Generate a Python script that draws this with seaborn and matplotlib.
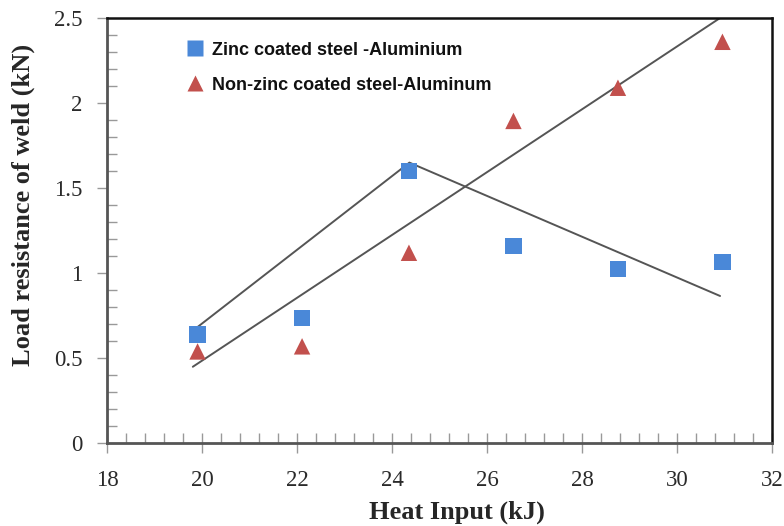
import matplotlib
matplotlib.use("Agg")
import matplotlib.pyplot as plt
import seaborn as sns
import pandas as pd
from matplotlib.ticker import MultipleLocator

# Data
heat_input = [19.9, 22.1, 24.35, 26.55, 28.75, 30.95]
zinc_load = [0.64, 0.735, 1.60, 1.16, 1.025, 1.065]
nonzinc_load = [0.54, 0.57, 1.12, 1.895, 2.09, 2.36]
zinc_trend_x = [19.8, 24.36, 30.9]
zinc_trend_y = [0.662, 1.65, 0.866]
nonzinc_trend_x = [19.8, 30.9]
nonzinc_trend_y = [0.45, 2.50]
series_names = ["Zinc coated steel -Aluminium", "Non-zinc coated steel-Aluminum"]
x_ticks = [18, 20, 22, 24, 26, 28, 30, 32]
y_ticks = [0, 0.5, 1, 1.5, 2, 2.5]
y_tick_labels = ["0", "0.5", "1", "1.5", "2", "2.5"]

sns.set_style("white")

df = pd.DataFrame({
    "x": heat_input * 2,
    "y": zinc_load + nonzinc_load,
    "series": [series_names[0]] * len(heat_input) + [series_names[1]] * len(heat_input),
})

fig = plt.figure(figsize=(7.84, 5.26), dpi=100)
ax = fig.add_axes([0.1369, 0.1572, 0.8482, 0.8086])

# trend lines
sns.lineplot(x=zinc_trend_x, y=zinc_trend_y, ax=ax, color="#555555", linewidth=1.4,
             legend=False, sort=False, estimator=None, zorder=2)
sns.lineplot(x=nonzinc_trend_x, y=nonzinc_trend_y, ax=ax, color="#555555", linewidth=1.4,
             legend=False, sort=False, estimator=None, zorder=2)

sns.scatterplot(data=df, x="x", y="y", hue="series", style="series",
                markers={series_names[0]: "s", series_names[1]: "^"},
                palette={series_names[0]: "#4a88d8", series_names[1]: "#c2504d"},
                s=140, edgecolor="none", ax=ax, zorder=3)

ax.set_xlim(18, 32)
ax.set_ylim(0, 2.5)
ax.set_xticks(x_ticks)
ax.set_xticklabels([str(v) for v in x_ticks])
ax.set_yticks(y_ticks)
ax.set_yticklabels(y_tick_labels)
ax.xaxis.set_minor_locator(MultipleLocator(0.4))
ax.yaxis.set_minor_locator(MultipleLocator(0.1))

ax.tick_params(which="both", bottom=True, left=True, top=False, right=False)
ax.tick_params(axis="x", which="major", direction="inout", length=15, width=1,
               color="#999999", labelsize=16.5, pad=12, labelcolor="#2a2a2a")
ax.tick_params(axis="y", which="major", direction="out", length=7, width=1,
               color="#999999", labelsize=16.5, pad=11, labelcolor="#2a2a2a")
ax.tick_params(which="minor", direction="in", length=7, width=1, color="#999999")
for lab in ax.get_xticklabels() + ax.get_yticklabels():
    lab.set_family(["Liberation Serif", "DejaVu Serif"])

for side in ["left", "bottom"]:
    ax.spines[side].set_color("#555555")
    ax.spines[side].set_linewidth(2)
for side in ["top", "right"]:
    ax.spines[side].set_color("#111111")
    ax.spines[side].set_linewidth(1.8)

ax.set_xlabel("Heat Input (kJ)", fontsize=19, fontweight="bold",
              family=["Liberation Serif", "DejaVu Serif"])
ax.set_ylabel("Load resistance of weld (kN)", fontsize=19, fontweight="bold",
              family=["Liberation Serif", "DejaVu Serif"])
ax.xaxis.label.set_va("center")
ax.yaxis.label.set_va("center")
ax.xaxis.set_label_coords(0.526, -0.162)
ax.yaxis.set_label_coords(-0.127, 0.561)

leg = ax.legend(loc="center left", bbox_to_anchor=(0.118, 0.883), frameon=False,
                prop={"family": "Liberation Sans", "weight": "bold", "size": 13},
                handlelength=1.0, handletextpad=0.45, labelspacing=1.0,
                borderaxespad=0, borderpad=0)
for t in leg.get_texts():
    t.set_color("#111111")

fig.savefig("out.png", dpi=100)
